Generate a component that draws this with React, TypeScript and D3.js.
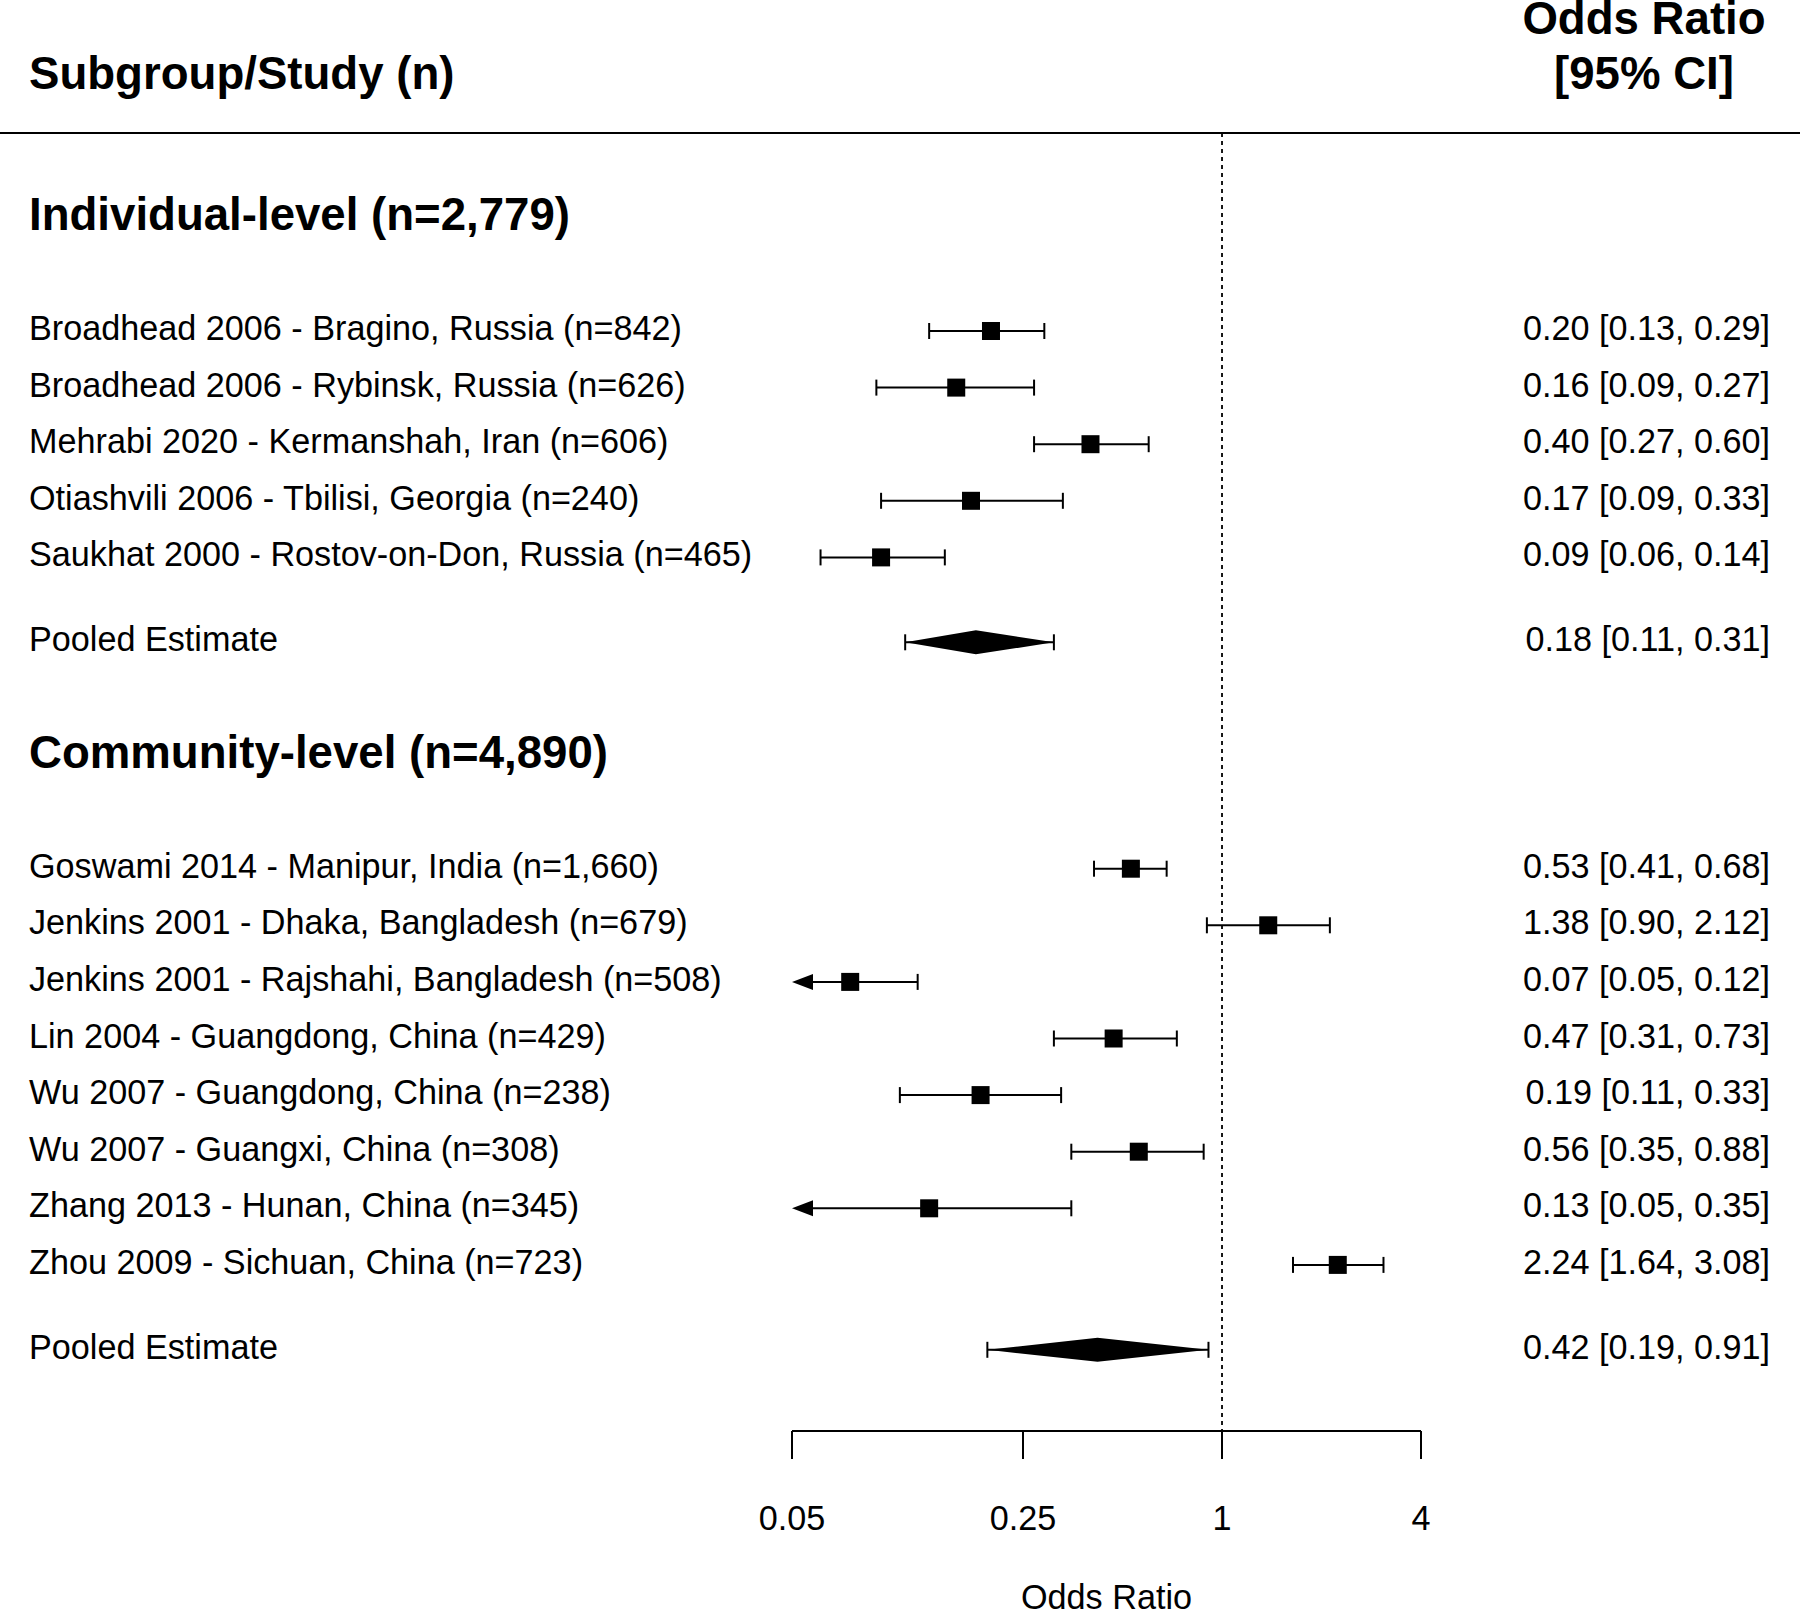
import React from "react";
import * as d3 from "d3";

const individualStudies = [
  "Broadhead 2006 - Bragino, Russia (n=842)",
  "Broadhead 2006 - Rybinsk, Russia (n=626)",
  "Mehrabi 2020 - Kermanshah, Iran (n=606)",
  "Otiashvili 2006 - Tbilisi, Georgia (n=240)",
  "Saukhat 2000 - Rostov-on-Don, Russia (n=465)",
];
const individualOR = [0.2, 0.157, 0.4, 0.174, 0.093];
const individualLo = [0.13, 0.09, 0.27, 0.093, 0.061];
const individualHi = [0.29, 0.27, 0.6, 0.33, 0.145];
const individualCI = [
  "0.20 [0.13, 0.29]",
  "0.16 [0.09, 0.27]",
  "0.40 [0.27, 0.60]",
  "0.17 [0.09, 0.33]",
  "0.09 [0.06, 0.14]",
];
const individualPooled = [0.18, 0.11, 0.31];
const individualPooledCI = "0.18 [0.11, 0.31]";

const communityStudies = [
  "Goswami 2014 - Manipur, India (n=1,660)",
  "Jenkins 2001 - Dhaka, Bangladesh (n=679)",
  "Jenkins 2001 - Rajshahi, Bangladesh (n=508)",
  "Lin 2004 - Guangdong, China (n=429)",
  "Wu 2007 - Guangdong, China (n=238)",
  "Wu 2007 - Guangxi, China (n=308)",
  "Zhang 2013 - Hunan, China (n=345)",
  "Zhou 2009 - Sichuan, China (n=723)",
];
const communityOR = [0.53, 1.38, 0.075, 0.47, 0.186, 0.56, 0.13, 2.24];
const communityLo = [0.41, 0.9, 0.05, 0.31, 0.106, 0.35, 0.05, 1.64];
const communityHi = [0.68, 2.12, 0.12, 0.73, 0.326, 0.88, 0.35, 3.08];
const communityCI = [
  "0.53 [0.41, 0.68]",
  "1.38 [0.90, 2.12]",
  "0.07 [0.05, 0.12]",
  "0.47 [0.31, 0.73]",
  "0.19 [0.11, 0.33]",
  "0.56 [0.35, 0.88]",
  "0.13 [0.05, 0.35]",
  "2.24 [1.64, 3.08]",
];
const communityPooled = [0.42, 0.195, 0.91];
const communityPooledCI = "0.42 [0.19, 0.91]";

const groupTitles = ["Individual-level (n=2,779)", "Community-level (n=4,890)"];
const tickValues = [0.05, 0.25, 1, 4];
const tickLabels = ["0.05", "0.25", "1", "4"];

const FONT = "'Liberation Sans', Arial, Helvetica, sans-serif";

export default function App() {
  const W = 1800;
  const H = 1612;
  const x = d3.scaleLog().base(2).domain([0.05, 4]).range([792, 1421]);
  const rowStep = 56.6;
  const y = (r: number) => 331 + r * rowStep;

  type Row = { kind: "title" | "study" | "pooled"; text: string; r: number; ci?: string; e?: number; l?: number; h?: number };
  const rows: Row[] = [];
  rows.push({ kind: "title", text: groupTitles[0], r: -2 });
  individualStudies.forEach((s, i) =>
    rows.push({ kind: "study", text: s, r: i, ci: individualCI[i], e: individualOR[i], l: individualLo[i], h: individualHi[i] })
  );
  rows.push({ kind: "pooled", text: "Pooled Estimate", r: 5.5, ci: individualPooledCI, e: individualPooled[0], l: individualPooled[1], h: individualPooled[2] });
  rows.push({ kind: "title", text: groupTitles[1], r: 7.5 });
  communityStudies.forEach((s, i) =>
    rows.push({ kind: "study", text: s, r: 9.5 + i, ci: communityCI[i], e: communityOR[i], l: communityLo[i], h: communityHi[i] })
  );
  rows.push({ kind: "pooled", text: "Pooled Estimate", r: 18, ci: communityPooledCI, e: communityPooled[0], l: communityPooled[1], h: communityPooled[2] });

  const axisY = 1431;
  const textSize = 34.2;
  const boldSize = 45.6;
  const sq = 18;
  const cap = 8;
  const minV = x.domain()[0];

  return (
    <svg
      width={W}
      height={H}
      style={{ position: "absolute", left: 0, top: 0, display: "block", background: "#fff" }}
      fontFamily={FONT}
    >
      <rect x={0} y={0} width={W} height={H} fill="#fff" />
      {/* header */}
      <text x={29} y={89} fontSize={boldSize} fontWeight="bold">Subgroup/Study (n)</text>
      <text x={1644} y={34} fontSize={boldSize} fontWeight="bold" textAnchor="middle">Odds Ratio</text>
      <text x={1644} y={89} fontSize={boldSize} fontWeight="bold" textAnchor="middle">[95% CI]</text>
      <line x1={0} x2={W} y1={133} y2={133} stroke="#000" strokeWidth={2.2} />
      {/* reference line */}
      <line x1={x(1)} x2={x(1)} y1={133} y2={axisY} stroke="#000" strokeWidth={1.8} strokeDasharray="4 4" />

      {rows.map((row, i) => {
        const cy = y(row.r);
        if (row.kind === "title") {
          return (
            <text key={i} x={29} y={cy + 12} fontSize={boldSize} fontWeight="bold">{row.text}</text>
          );
        }
        const e = row.e!, l = row.l!, h = row.h!;
        const xl = x(Math.max(l, minV));
        const xh = x(h);
        const xe = x(e);
        const arrow = l <= minV;
        return (
          <g key={i}>
            <text x={29} y={cy + 9} fontSize={textSize}>{row.text}</text>
            <text x={1770} y={cy + 9} fontSize={textSize} textAnchor="end">{row.ci}</text>
            {row.kind === "study" ? (
              <g stroke="#000" strokeWidth={2}>
                <line x1={arrow ? xl + 18 : xl} x2={xh} y1={cy} y2={cy} />
                {!arrow && <line x1={xl} x2={xl} y1={cy - cap} y2={cy + cap} />}
                <line x1={xh} x2={xh} y1={cy - cap} y2={cy + cap} />
                {arrow && (
                  <path d={`M${xl},${cy} L${xl + 21},${cy - 8} L${xl + 21},${cy + 8} Z`} fill="#000" stroke="none" />
                )}
                <rect x={xe - sq / 2} y={cy - sq / 2} width={sq} height={sq} fill="#000" stroke="none" />
              </g>
            ) : (
              <g stroke="#000" strokeWidth={2}>
                <line x1={xl} x2={xh} y1={cy} y2={cy} />
                <line x1={xl} x2={xl} y1={cy - cap} y2={cy + cap} />
                <line x1={xh} x2={xh} y1={cy - cap} y2={cy + cap} />
                <path d={`M${xl},${cy} L${xe},${cy - 12} L${xh},${cy} L${xe},${cy + 12} Z`} fill="#000" stroke="none" />
              </g>
            )}
          </g>
        );
      })}

      {/* axis */}
      <g stroke="#000" strokeWidth={2}>
        <line x1={x(tickValues[0])} x2={x(tickValues[tickValues.length - 1])} y1={axisY} y2={axisY} />
        {tickValues.map((t, i) => (
          <line key={i} x1={x(t)} x2={x(t)} y1={axisY} y2={axisY + 28} />
        ))}
      </g>
      {tickValues.map((t, i) => (
        <text key={i} x={x(t)} y={1530} fontSize={textSize} textAnchor="middle">{tickLabels[i]}</text>
      ))}
      <text x={(x.range()[0] + x.range()[1]) / 2} y={1609} fontSize={textSize} textAnchor="middle">Odds Ratio</text>
    </svg>
  );
}
